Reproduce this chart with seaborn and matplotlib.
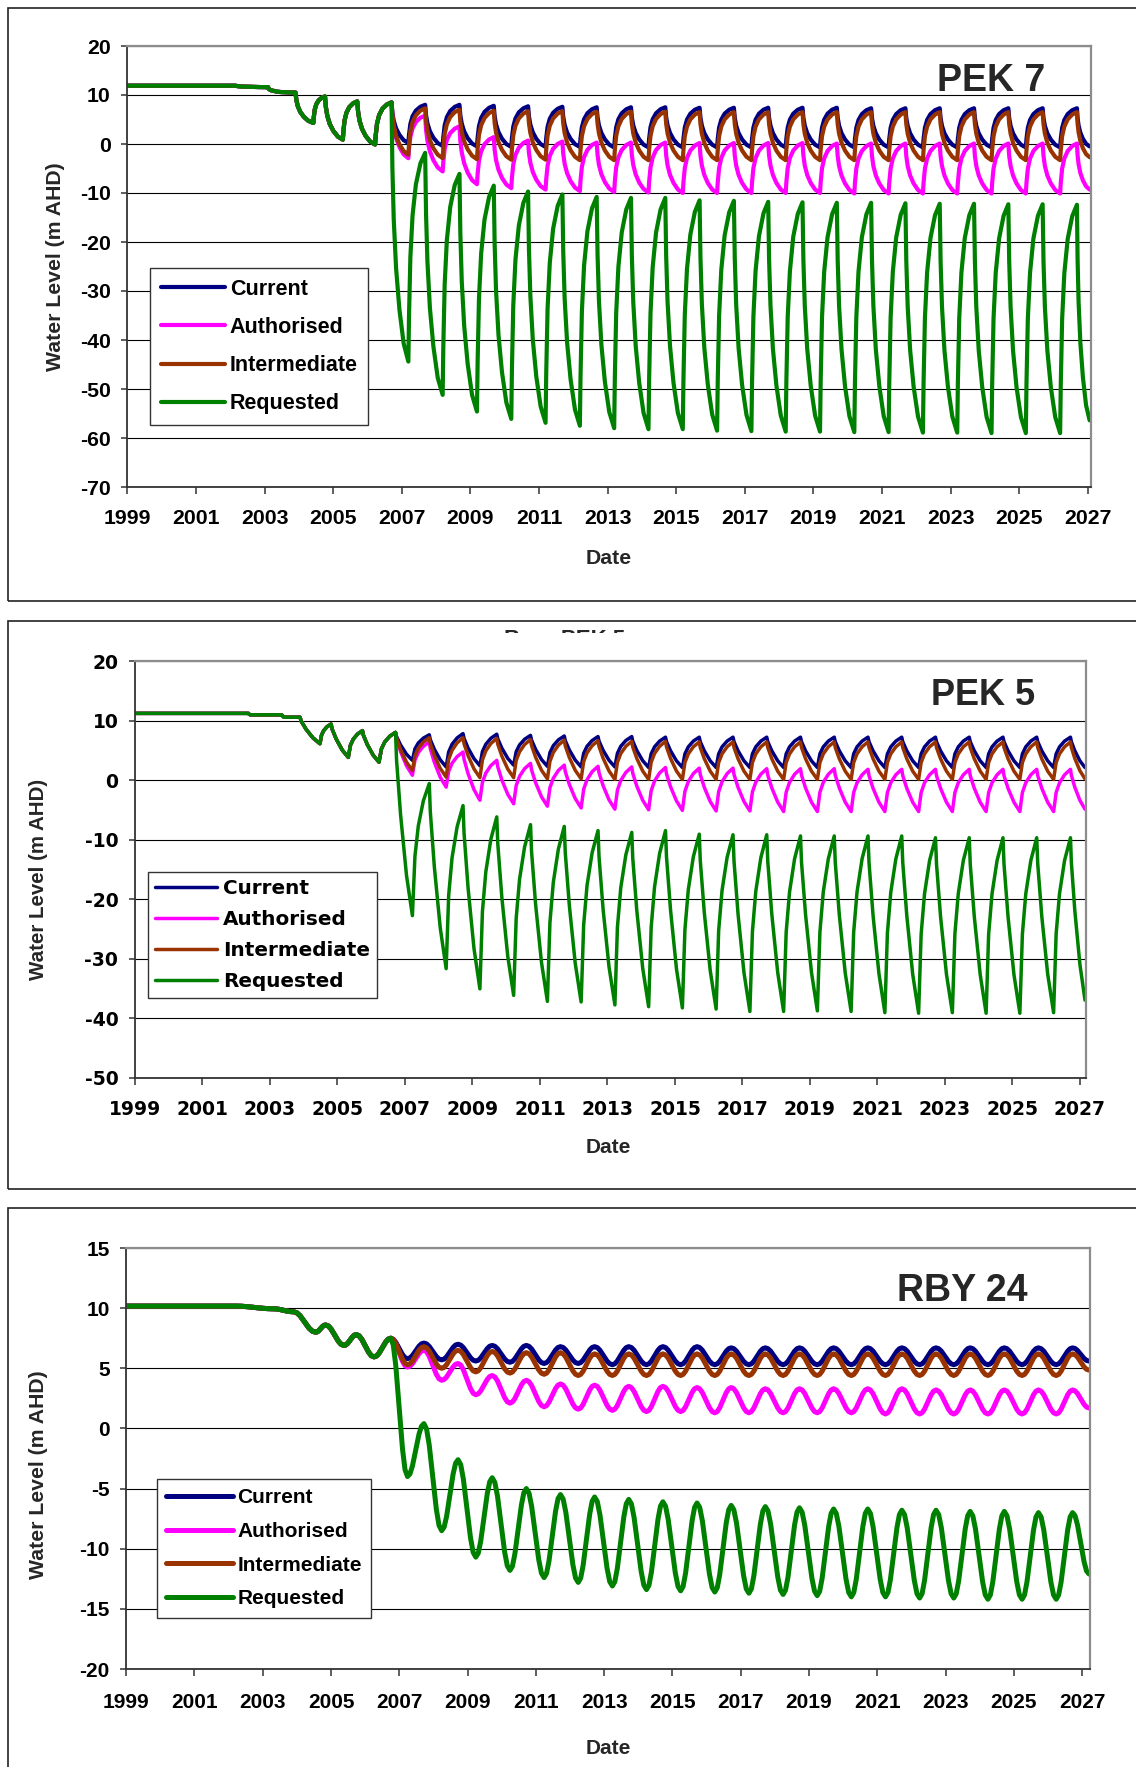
import matplotlib
matplotlib.use("Agg")
import matplotlib.pyplot as plt
from matplotlib.lines import Line2D
from matplotlib.patches import Rectangle
import numpy as np
import pandas as pd
import seaborn as sns

sns.set_theme(style="white")
plt.rcParams["font.family"] = ["Liberation Sans", "DejaVu Sans"]

W, H = 1136, 1767
SCENARIOS = ["Current", "Authorised", "Intermediate", "Requested"]
COLOURS = {"Current": "#000080", "Authorised": "#FF00FF",
           "Intermediate": "#993300", "Requested": "#008000"}
TICK_YEARS = list(range(1999, 2028, 2))

# ------------------------------------------------------------
# PEK 7 : shared history up to 2006.7, then yearly troughs / peaks
# ------------------------------------------------------------
PEK7_HIST_YEAR = [1999.0, 2002.15, 2003.1, 2003.3, 2003.9, 2004.42, 2004.76,
                  2005.28, 2005.70, 2006.22, 2006.70]
PEK7_HIST_LEVEL = [11.9, 11.9, 11.6, 10.8, 10.5, 4.3, 9.7, 0.9, 8.7, -0.1, 8.5]
PEK7_TROUGH_START, PEK7_PEAK_START, PEK7_END_YEAR = 2007.19, 2007.68, 2027.05
PEK7_CUR_TROUGHS = [0.2, -0.4, -0.5, -0.6, -0.6, -0.6, -0.7, -0.7, -0.7, -0.7,
                    -0.7, -0.7, -0.7, -0.7, -0.7, -0.7, -0.7, -0.7, -0.7, -0.7]
PEK7_CUR_PEAKS = [8.0, 8.0, 7.8, 7.7, 7.6, 7.5, 7.5, 7.5, 7.4, 7.4,
                  7.4, 7.4, 7.4, 7.3, 7.3, 7.3, 7.3, 7.3, 7.3, 7.3]
PEK7_AUT_TROUGHS = [-2.9, -5.6, -8.2, -9.0, -9.3, -9.6, -9.8, -9.9, -10.0, -10.0,
                    -10.0, -10.0, -10.0, -10.1, -10.1, -10.1, -10.1, -10.1, -10.1, -10.1]
PEK7_AUT_PEAKS = [5.8, 3.6, 1.4, 0.7, 0.5, 0.3, 0.3, 0.3, 0.2, 0.2,
                  0.2, 0.2, 0.1, 0.1, 0.1, 0.1, 0.1, 0.1, 0.1, 0.1]
PEK7_INT_TROUGHS = [-2.2, -2.9, -3.1, -3.2, -3.2, -3.3, -3.3, -3.3, -3.3, -3.3,
                    -3.3, -3.3, -3.3, -3.3, -3.3, -3.3, -3.3, -3.3, -3.3, -3.3]
PEK7_INT_PEAKS = [7.3, 7.0, 6.8, 6.7, 6.7, 6.6, 6.6, 6.6, 6.5, 6.5,
                  6.5, 6.5, 6.5, 6.5, 6.5, 6.5, 6.5, 6.5, 6.5, 6.5]
PEK7_REQ_TROUGHS = [-44.4, -51.2, -54.6, -56.1, -56.9, -57.5, -58.0, -58.2, -58.2, -58.5,
                    -58.6, -58.7, -58.7, -58.8, -58.8, -58.9, -58.9, -59.0, -59.0, -59.0]
PEK7_REQ_PEAKS = [-1.8, -6.1, -8.5, -9.7, -10.3, -10.8, -11.0, -11.0, -11.5, -11.6,
                  -11.8, -11.9, -12.0, -12.0, -12.1, -12.2, -12.2, -12.3, -12.3, -12.4]
PEK7_END_LEVEL = [-0.5, -9.3, -2.7, -56.4]

# ------------------------------------------------------------
# PEK 5
# ------------------------------------------------------------
PEK5_HIST_YEAR = [1999.0, 2002.36, 2002.42, 2003.35, 2003.42, 2003.89, 2004.48,
                  2004.81, 2005.32, 2005.74, 2006.23, 2006.72]
PEK5_HIST_LEVEL = [11.2, 11.2, 10.95, 10.95, 10.55, 10.55, 6.1, 9.4, 3.8, 8.3, 3.0, 8.0]
PEK5_TROUGH_START, PEK5_PEAK_START, PEK5_END_YEAR = 2007.22, 2007.72, 2027.15
PEK5_CUR_TROUGHS = [3.3, 2.2, 2.4, 2.5, 2.3, 2.2, 2.2, 2.1, 2.1, 2.1,
                    2.1, 2.1, 2.1, 2.1, 2.1, 2.1, 2.1, 2.1, 2.1, 2.1]
PEK5_CUR_PEAKS = [7.6, 7.8, 7.7, 7.5, 7.4, 7.3, 7.3, 7.2, 7.2, 7.2,
                  7.2, 7.2, 7.2, 7.2, 7.2, 7.2, 7.2, 7.2, 7.2, 7.2]
PEK5_AUT_TROUGHS = [0.8, -1.2, -3.4, -4.0, -4.4, -4.7, -4.9, -5.0, -5.1, -5.2,
                    -5.2, -5.3, -5.3, -5.3, -5.3, -5.3, -5.3, -5.3, -5.3, -5.3]
PEK5_AUT_PEAKS = [6.4, 4.7, 3.3, 2.8, 2.5, 2.3, 2.2, 2.1, 2.0, 2.0,
                  1.9, 1.9, 1.9, 1.8, 1.8, 1.8, 1.8, 1.8, 1.8, 1.8]
PEK5_INT_TROUGHS = [1.6, 0.5, 0.4, 0.4, 0.2, 0.2, 0.1, 0.1, 0.1, 0.1,
                    0.1, 0.1, 0.1, 0.1, 0.1, 0.1, 0.1, 0.1, 0.1, 0.1]
PEK5_INT_PEAKS = [7.1, 7.1, 7.0, 6.8, 6.7, 6.6, 6.5, 6.5, 6.4, 6.4,
                  6.4, 6.4, 6.4, 6.4, 6.4, 6.4, 6.4, 6.4, 6.4, 6.4]
PEK5_REQ_TROUGHS = [-22.8, -31.7, -35.1, -36.2, -37.2, -37.3, -37.8, -38.1, -38.3, -38.5,
                    -38.9, -38.9, -38.8, -38.9, -39.1, -39.2, -39.1, -39.2, -39.2, -39.1]
PEK5_REQ_PEAKS = [-0.6, -4.3, -6.2, -7.5, -7.8, -8.5, -8.8, -8.5, -9.1, -9.2,
                  -9.2, -9.4, -9.4, -9.4, -9.4, -9.7, -9.7, -9.7, -9.7, -9.7]
PEK5_END_LEVEL = [2.1, -4.9, 0.2, -37.0]

# ------------------------------------------------------------
# RBY 24
# ------------------------------------------------------------
RBY24_HIST_YEAR = [1999.0, 2002.2, 2003.3, 2003.9, 2004.55, 2004.84, 2005.38,
                   2005.74, 2006.26, 2006.75]
RBY24_HIST_LEVEL = [10.17, 10.17, 9.95, 9.7, 8.0, 8.6, 6.9, 7.8, 5.95, 7.5]
RBY24_TROUGH_START, RBY24_PEAK_START, RBY24_END_YEAR = 2007.24, 2007.72, 2027.2
RBY24_CUR_TROUGHS = [5.8, 5.7, 5.6, 5.5, 5.4, 5.4, 5.3, 5.3, 5.3, 5.3,
                     5.3, 5.3, 5.3, 5.3, 5.3, 5.3, 5.3, 5.3, 5.3, 5.3]
RBY24_CUR_PEAKS = [7.1, 7.0, 6.9, 6.9, 6.8, 6.8, 6.8, 6.8, 6.8, 6.7,
                   6.7, 6.7, 6.7, 6.7, 6.7, 6.7, 6.7, 6.7, 6.7, 6.7]
RBY24_AUT_TROUGHS = [5.1, 4.0, 2.8, 2.1, 1.8, 1.6, 1.5, 1.4, 1.4, 1.3,
                     1.3, 1.3, 1.3, 1.3, 1.2, 1.2, 1.2, 1.2, 1.2, 1.2]
RBY24_AUT_PEAKS = [6.5, 5.4, 4.4, 4.0, 3.7, 3.6, 3.5, 3.5, 3.4, 3.4,
                   3.3, 3.3, 3.3, 3.3, 3.3, 3.2, 3.2, 3.2, 3.2, 3.2]
RBY24_INT_TROUGHS = [5.3, 5.0, 4.7, 4.6, 4.5, 4.4, 4.4, 4.4, 4.4, 4.4,
                     4.4, 4.4, 4.4, 4.4, 4.4, 4.4, 4.4, 4.4, 4.4, 4.4]
RBY24_INT_PEAKS = [6.8, 6.5, 6.4, 6.3, 6.3, 6.2, 6.2, 6.2, 6.2, 6.2,
                   6.2, 6.2, 6.2, 6.2, 6.2, 6.2, 6.2, 6.2, 6.2, 6.2]
RBY24_REQ_TROUGHS = [-4.0, -8.5, -10.7, -11.8, -12.4, -12.8, -13.1, -13.4, -13.5, -13.6,
                     -13.7, -13.8, -13.9, -14.0, -14.0, -14.1, -14.1, -14.2, -14.2, -14.2]
RBY24_REQ_PEAKS = [0.4, -2.6, -4.1, -5.0, -5.5, -5.7, -5.9, -6.1, -6.2, -6.4,
                   -6.5, -6.6, -6.7, -6.7, -6.8, -6.8, -6.9, -6.9, -7.0, -7.0]
RBY24_END_LEVEL = [5.6, 1.7, 4.85, -12.1]

# shape of one drawdown / recovery leg
# (fraction of the leg's time, fraction of the leg's change)
PEK7_DOWN = ([0, 0.05, 0.13, 0.27, 0.47, 0.72, 1.0], [0, 0.25, 0.45, 0.64, 0.80, 0.93, 1.0])
PEK7_UP = ([0, 0.04, 0.12, 0.25, 0.45, 0.72, 1.0], [0, 0.22, 0.50, 0.70, 0.85, 0.95, 1.0])
PEK5_DOWN = ([0, 0.06, 0.30, 0.65, 1.0], [0, 0.15, 0.45, 0.78, 1.0])
PEK5_UP = ([0, 0.15, 0.35, 0.65, 1.0], [0, 0.45, 0.68, 0.87, 1.0])
RBY24_LEG = ([0, 0.15, 0.30, 0.50, 0.70, 0.85, 1.0], [0, 0.05, 0.20, 0.50, 0.80, 0.95, 1.0])


def px_rect(left, top, right, bottom):
    return [left / W, 1 - bottom / H, (right - left) / W, (bottom - top) / H]


def build_curve(knot_t, knot_v, down, up):
    xs, ys = [knot_t[0]], [knot_v[0]]
    for t0, t1, v0, v1 in zip(knot_t[:-1], knot_t[1:], knot_v[:-1], knot_v[1:]):
        pt, pf = down if v1 < v0 else up
        for a, b in zip(pt[1:], pf[1:]):
            xs.append(t0 + (t1 - t0) * a)
            ys.append(v0 + (v1 - v0) * b)
    return xs, ys


def panel_frame(hist_t, hist_v, trough_start, peak_start, end_year,
                troughs, peaks, ends, down, up):
    rows = []
    n = len(troughs[0])
    t_tr = np.arange(n) + trough_start
    t_pk = np.arange(n) + peak_start
    for name, tr, pk, end in zip(SCENARIOS, troughs, peaks, ends):
        kt, kv = list(hist_t), list(hist_v)
        for a, b, c, d in zip(t_tr, tr, t_pk, pk):
            kt += [a, c]
            kv += [b, d]
        kt.append(end_year)
        kv.append(end)
        xs, ys = build_curve(kt, kv, down, up)
        rows.append(pd.DataFrame({"year": xs, "level": ys, "scenario": name}))
    return pd.concat(rows, ignore_index=True)


def style_axes(ax, xmax, yticks, tick_font, tick_size, xpad):
    ax.set_xlim(1999, xmax)
    ax.set_ylim(yticks[0], yticks[-1])
    ax.set_xticks(TICK_YEARS)
    ax.set_xticklabels([str(y) for y in TICK_YEARS], fontsize=tick_size,
                       fontweight="bold", family=tick_font)
    ax.set_yticks(yticks)
    ax.set_yticklabels([str(v) for v in yticks], fontsize=tick_size,
                       fontweight="bold", family=tick_font)
    ax.set_xlabel("")
    ax.set_ylabel("")
    ax.grid(axis="y", color="black", linewidth=0.8)
    ax.grid(axis="x", visible=False)
    ax.set_axisbelow(True)
    for side in ["top", "right"]:
        ax.spines[side].set_color("#8c8c8c")
        ax.spines[side].set_linewidth(1.6)
    for side in ["left", "bottom"]:
        ax.spines[side].set_color("#333333")
        ax.spines[side].set_linewidth(1.3)
    ax.tick_params(axis="x", bottom=True, direction="out", length=5, width=1.1,
                   color="#333333", pad=xpad, labelcolor="black")
    ax.tick_params(axis="y", left=True, direction="out", length=4, width=1.1,
                   color="#333333", pad=8, labelcolor="black")
    ax.set_facecolor("white")


def add_legend(ax, lw, prop, anchor, handlelength, textpad, borderpad, spacing):
    handles = [Line2D([], [], color=COLOURS[s], linewidth=lw, solid_capstyle="round")
               for s in SCENARIOS]
    leg = ax.legend(handles, SCENARIOS, loc="upper left",
                    bbox_to_anchor=(anchor[0] / W, 1 - anchor[1] / H),
                    bbox_transform=ax.figure.transFigure, borderaxespad=0,
                    prop=prop, handlelength=handlelength, handletextpad=textpad,
                    borderpad=borderpad, labelspacing=spacing, fancybox=False,
                    framealpha=1, edgecolor="#333333")
    leg.get_frame().set_linewidth(1.0)
    for t in leg.get_texts():
        t.set_color("black")


fig = plt.figure(figsize=(W / 100, H / 100), dpi=100)
fig.patch.set_facecolor("white")

# outer boxes round each chart (right side runs off the page)
for top, bottom in [(8, 601), (621, 1189), (1208, 1800)]:
    fig.add_artist(Rectangle((8 / W, 1 - bottom / H), (1160 - 8) / W, (bottom - top) / H,
                             transform=fig.transFigure, fill=False,
                             edgecolor="#222222", linewidth=1.2, clip_on=False))

# ---------------- PEK 7 ----------------
df7 = panel_frame(PEK7_HIST_YEAR, PEK7_HIST_LEVEL, PEK7_TROUGH_START, PEK7_PEAK_START,
                  PEK7_END_YEAR,
                  [PEK7_CUR_TROUGHS, PEK7_AUT_TROUGHS, PEK7_INT_TROUGHS, PEK7_REQ_TROUGHS],
                  [PEK7_CUR_PEAKS, PEK7_AUT_PEAKS, PEK7_INT_PEAKS, PEK7_REQ_PEAKS],
                  PEK7_END_LEVEL, PEK7_DOWN, PEK7_UP)
ax1 = fig.add_axes(px_rect(127.4, 46, 1091, 487))
sns.lineplot(data=df7, x="year", y="level", hue="scenario", hue_order=SCENARIOS,
             palette=COLOURS, estimator=None, sort=False, linewidth=3.0,
             legend=False, ax=ax1)
style_axes(ax1, 2027.09, list(range(-70, 21, 10)), "Liberation Sans", 15.3, 11)
ax1.text(0.953, 0.898, "PEK 7", transform=ax1.transAxes, ha="right", va="baseline",
         fontsize=27, fontweight="bold")
add_legend(ax1, 3.0, {"family": "Liberation Sans", "weight": "bold", "size": 15.5},
           (150, 268), 3.0, 0.2, 0.5, 0.8)
fig.text(56 / W, 1 - 266.5 / H, "Water Level (m AHD)", rotation=90, ha="center",
         va="center", fontsize=15.3, fontweight="bold")
fig.text(608.6 / W, 1 - 558 / H, "Date", ha="center", va="center",
         fontsize=15.3, fontweight="bold")

# ---------------- PEK 5 ----------------
df5 = panel_frame(PEK5_HIST_YEAR, PEK5_HIST_LEVEL, PEK5_TROUGH_START, PEK5_PEAK_START,
                  PEK5_END_YEAR,
                  [PEK5_CUR_TROUGHS, PEK5_AUT_TROUGHS, PEK5_INT_TROUGHS, PEK5_REQ_TROUGHS],
                  [PEK5_CUR_PEAKS, PEK5_AUT_PEAKS, PEK5_INT_PEAKS, PEK5_REQ_PEAKS],
                  PEK5_END_LEVEL, PEK5_DOWN, PEK5_UP)
ax2 = fig.add_axes(px_rect(135, 661, 1086, 1077.5))
sns.lineplot(data=df5, x="year", y="level", hue="scenario", hue_order=SCENARIOS,
             palette=COLOURS, estimator=None, sort=False, linewidth=2.5,
             legend=False, ax=ax2)
style_axes(ax2, 2027.18, list(range(-50, 21, 10)), "DejaVu Sans", 13.5, 11)
ax2.text(0.946, 0.894, "PEK 5", transform=ax2.transAxes, ha="right", va="baseline",
         fontsize=26, fontweight="bold")
add_legend(ax2, 2.5, {"family": "DejaVu Sans", "weight": "bold", "size": 14.4},
           (148, 872), 3.1, 0.3, 0.35, 0.6)
fig.text(39 / W, 1 - 879 / H, "Water Level (m AHD)", rotation=90, ha="center",
         va="center", fontsize=14.8, fontweight="bold")
fig.text(608.6 / W, 1 - 1147 / H, "Date", ha="center", va="center",
         fontsize=15, fontweight="bold")
# chart title that is mostly hidden behind the plot area in the original
fig.text(565 / W, 1 - 645 / H, "Bore PEK 5", ha="center", va="baseline",
         fontsize=16, fontweight="bold", zorder=1)
fig.add_artist(Rectangle((430 / W, 1 - 656 / H), 300 / W, 23 / H,
                         transform=fig.transFigure, facecolor="white",
                         edgecolor="none", zorder=2))

# ---------------- RBY 24 ----------------
df24 = panel_frame(RBY24_HIST_YEAR, RBY24_HIST_LEVEL, RBY24_TROUGH_START, RBY24_PEAK_START,
                   RBY24_END_YEAR,
                   [RBY24_CUR_TROUGHS, RBY24_AUT_TROUGHS, RBY24_INT_TROUGHS, RBY24_REQ_TROUGHS],
                   [RBY24_CUR_PEAKS, RBY24_AUT_PEAKS, RBY24_INT_PEAKS, RBY24_REQ_PEAKS],
                   RBY24_END_LEVEL, RBY24_LEG, RBY24_LEG)
ax3 = fig.add_axes(px_rect(126.2, 1248, 1090, 1669))
sns.lineplot(data=df24, x="year", y="level", hue="scenario", hue_order=SCENARIOS,
             palette=COLOURS, estimator=None, sort=False, linewidth=3.6,
             legend=False, ax=ax3)
style_axes(ax3, 2027.23, list(range(-20, 16, 5)), "Liberation Sans", 15.0, 12)
ax3.text(0.935, 0.874, "RBY 24", transform=ax3.transAxes, ha="right", va="baseline",
         fontsize=27, fontweight="bold")
add_legend(ax3, 3.6, {"family": "Liberation Sans", "weight": "bold", "size": 15},
           (157, 1479), 3.2, 0.2, 0.45, 0.7)
fig.text(39 / W, 1 - 1475 / H, "Water Level (m AHD)", rotation=90, ha="center",
         va="center", fontsize=15.3, fontweight="bold")
fig.text(608.6 / W, 1 - 1748 / H, "Date", ha="center", va="center",
         fontsize=15, fontweight="bold")

fig.savefig("out.png", dpi=100)
